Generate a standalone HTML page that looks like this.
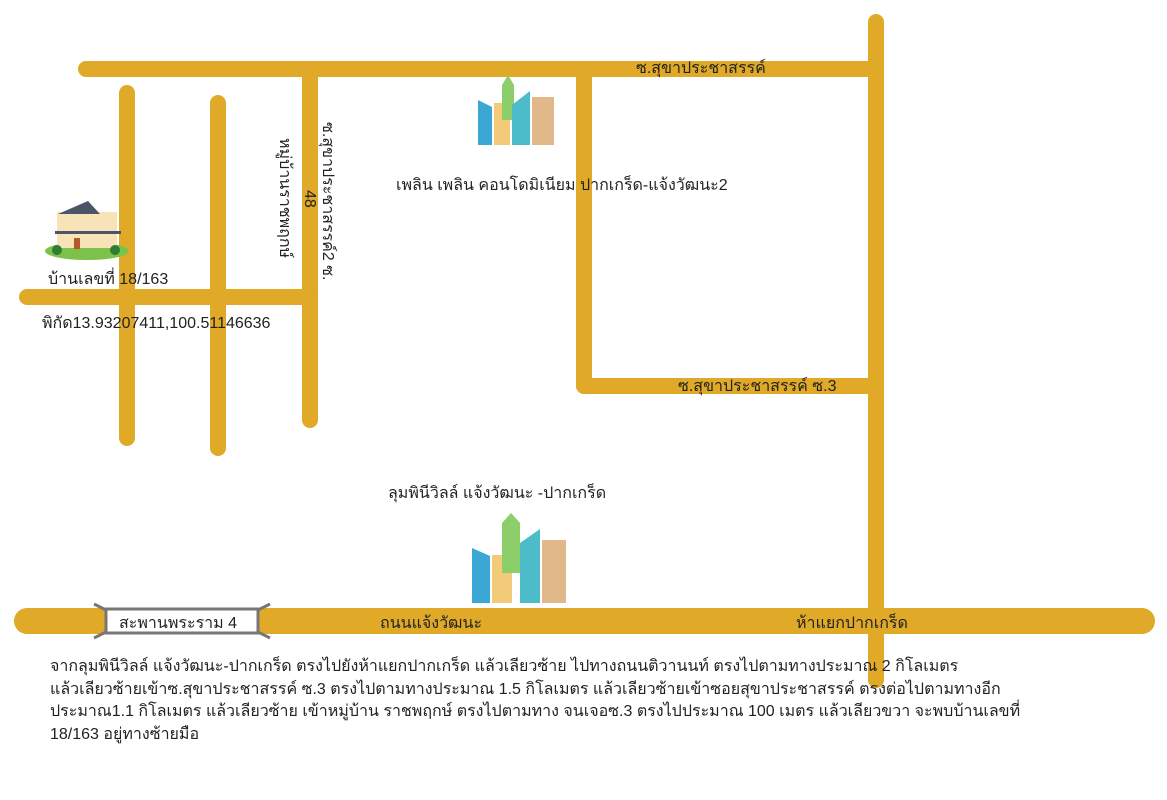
<!DOCTYPE html>
<html><head><meta charset="utf-8"><style>
body{margin:0;background:#fff;width:1167px;height:800px;overflow:hidden;font-family:"Liberation Sans","Noto Sans CJK SC",sans-serif}
svg text{font-family:"Liberation Sans","Noto Sans CJK SC",sans-serif;fill:#222;font-size:16px}
.p{position:absolute;left:50px;top:656px;font-size:16px;line-height:22.5px;color:#222;width:1100px}
</style></head><body>
<svg width="1167" height="800" style="position:absolute;left:0;top:0">
<g stroke="#e0a927" stroke-linecap="round" fill="none">
<line x1="86" y1="69" x2="876" y2="69" stroke-width="16"/>
<line x1="876" y1="22" x2="876" y2="680" stroke-width="16"/>
<line x1="127" y1="93" x2="127" y2="438" stroke-width="16"/>
<line x1="218" y1="103" x2="218" y2="448" stroke-width="16"/>
<line x1="310" y1="69" x2="310" y2="420" stroke-width="16"/>
<line x1="27" y1="297" x2="310" y2="297" stroke-width="16"/>
<line x1="584" y1="69" x2="584" y2="386" stroke-width="16"/>
<line x1="584" y1="386" x2="876" y2="386" stroke-width="16"/>
<line x1="27" y1="621" x2="1142" y2="621" stroke-width="26"/>
</g>
<rect x="106" y="609" width="152" height="24" fill="#fff" stroke="#777" stroke-width="3"/>
<g stroke="#777" stroke-width="3"><line x1="94" y1="604" x2="106" y2="610"/><line x1="94" y1="638" x2="106" y2="632"/><line x1="270" y1="604" x2="258" y2="610"/><line x1="270" y1="638" x2="258" y2="632"/></g>
<text x="119" y="628">สะพานพระราม 4</text>
<text x="380" y="628">ถนนแจ้งวัฒนะ</text>
<text x="796" y="628">ห้าแยกปากเกร็ด</text>
<text x="636" y="73">ซ.สุขาประชาสรรค์</text>
<text x="678" y="391">ซ.สุขาประชาสรรค์ ซ.3</text>
<text x="396" y="190">เพลิน เพลิน คอนโดมิเนียม ปากเกร็ด-แจ้งวัฒนะ2</text>
<text x="388" y="498">ลุมพินีวิลล์ แจ้งวัฒนะ -ปากเกร็ด</text>
<text x="48" y="284">บ้านเลขที่ 18/163</text>
<text x="42" y="328">พิกัด13.93207411,100.51146636</text>
<text transform="translate(323,122) rotate(90)">ซ.สุขาประชาสรรค์2 ซ.</text>
<text transform="translate(305,190) rotate(90)">48</text>
<text transform="translate(280,138) rotate(90)">หมู่บ้านราชพฤกษ์</text>
<ellipse cx="87" cy="251" rx="42" ry="9" fill="#7cc24a"/>
<rect x="57" y="212" width="60" height="36" fill="#f8e2b8"/>
<polygon points="58,214 88,201 100,214" fill="#4b5568"/>
<rect x="55" y="231" width="66" height="3" fill="#4b5568"/>
<rect x="74" y="238" width="6" height="11" fill="#b55a2a"/>
<circle cx="57" cy="250" r="5" fill="#2e7d32"/><circle cx="115" cy="250" r="5" fill="#2e7d32"/>
<g transform="translate(478,75)">
<polygon points="0,25 14,32 14,70 0,70" fill="#3ba7d4"/>
<rect x="16" y="28" width="16" height="42" fill="#f3c97a"/>
<polygon points="24,10 30,0 36,10 36,45 24,45" fill="#8ccf6a"/>
<polygon points="34,30 52,16 52,70 34,70" fill="#4bbcc8"/>
<rect x="54" y="22" width="22" height="48" fill="#e0b88a"/>
</g>
<g transform="translate(472,513)">
<polygon points="0,35 18,43 18,90 0,90" fill="#3ba7d4"/>
<rect x="20" y="42" width="20" height="48" fill="#f3c97a"/>
<polygon points="30,10 39,0 48,10 48,60 30,60" fill="#8ccf6a"/>
<polygon points="48,30 68,16 68,90 48,90" fill="#4bbcc8"/>
<rect x="70" y="27" width="24" height="63" fill="#e0b88a"/>
</g>
</svg>
<div class="p">จากลุมพินีวิลล์ แจ้งวัฒนะ-ปากเกร็ด ตรงไปยังห้าแยกปากเกร็ด แล้วเลียวซ้าย ไปทางถนนติวานนท์ ตรงไปตามทางประมาณ 2 กิโลเมตร<br>แล้วเลียวซ้ายเข้าซ.สุขาประชาสรรค์ ซ.3 ตรงไปตามทางประมาณ 1.5 กิโลเมตร แล้วเลียวซ้ายเข้าซอยสุขาประชาสรรค์ ตรงต่อไปตามทางอีก<br>ประมาณ1.1 กิโลเมตร แล้วเลียวซ้าย เข้าหมู่บ้าน ราชพฤกษ์ ตรงไปตามทาง จนเจอซ.3 ตรงไปประมาณ 100 เมตร แล้วเลียวขวา จะพบบ้านเลขที่<br>18/163 อยู่ทางซ้ายมือ</div>
</body></html>
